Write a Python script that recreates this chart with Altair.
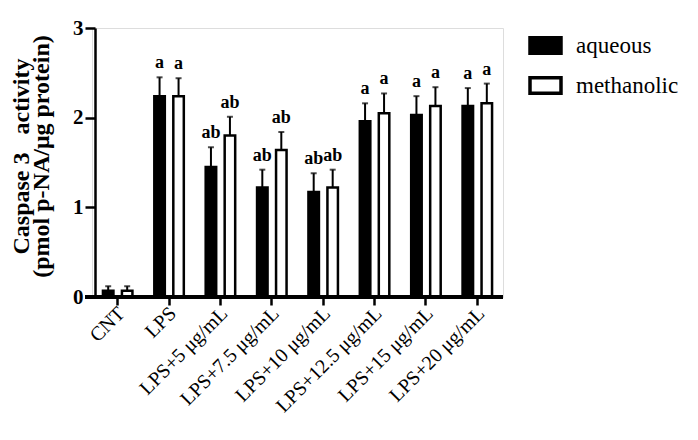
import altair as alt
import pandas as pd

categories = ["CNT", "LPS", "LPS+5 μg/mL", "LPS+7.5 μg/mL", "LPS+10 μg/mL",
              "LPS+12.5 μg/mL", "LPS+15 μg/mL", "LPS+20 μg/mL"]
series = ["aqueous", "methanolic"]
aqueous_mean = [0.07, 2.24, 1.45, 1.22, 1.17, 1.96, 2.03, 2.13]
aqueous_sd = [0.05, 0.21, 0.22, 0.20, 0.21, 0.20, 0.21, 0.20]
methanolic_mean = [0.07, 2.24, 1.80, 1.64, 1.22, 2.05, 2.13, 2.16]
methanolic_sd = [0.05, 0.20, 0.21, 0.20, 0.20, 0.22, 0.21, 0.22]
aqueous_letters = ["", "a", "ab", "ab", "ab", "a", "a", "a"]
methanolic_letters = ["", "a", "ab", "ab", "ab", "a", "a", "a"]

rows = []
for i, c in enumerate(categories):
    rows.append({"cat": c, "series": "aqueous", "mean": aqueous_mean[i],
                 "upper": aqueous_mean[i] + aqueous_sd[i], "letter": aqueous_letters[i]})
    rows.append({"cat": c, "series": "methanolic", "mean": methanolic_mean[i],
                 "upper": methanolic_mean[i] + methanolic_sd[i], "letter": methanolic_letters[i]})
df = pd.DataFrame(rows)

FONT = "Liberation Serif"
W, H = 411, 269

x_enc = alt.X("cat:N", sort=categories,
              scale=alt.Scale(paddingInner=0, paddingOuter=0),
              axis=alt.Axis(title=None, labelAngle=-45, labelAlign="right",
                            labelBaseline="middle", labelFont=FONT, labelFontSize=20,
                            labelColor="black", domain=False, tickSize=8,
                            tickWidth=2.5, tickColor="black", labelPadding=5,
                            labelOffset=4))
xo_enc = alt.XOffset("series:N", sort=series,
                     scale=alt.Scale(paddingInner=0.447, paddingOuter=0.576))
y_scale = alt.Scale(domain=[0, 3], nice=False, zero=True)

base = alt.Chart(df).encode(x=x_enc, xOffset=xo_enc)

bars = base.mark_bar(stroke="black", strokeWidth=2.5).encode(
    y=alt.Y("mean:Q", scale=y_scale,
            axis=alt.Axis(title=["Caspase 3\u00a0\u00a0\u00a0activity", "(pmol p-NA/μg protein)"],
                          values=[0, 1, 2, 3], format="d", grid=False,
                          domainColor="black", domainWidth=2.5, tickColor="black",
                          tickWidth=2.5, tickSize=10, labelFont=FONT, labelFontSize=21,
                          labelFontWeight="bold", labelColor="black", labelPadding=2,
                          titleFont=FONT, titleFontSize=24, titleFontWeight="bold",
                          titleColor="black", titlePadding=19, titleLineHeight=20,
                          titleY=128, offset=-3)),
    fill=alt.Fill("series:N", sort=series,
                  scale=alt.Scale(domain=series, range=["black", "white"]),
                  legend=alt.Legend(title=None, orient="none", legendX=436, legendY=0,
                                    symbolType="M-1,-0.5H1V0.5H-1Z", symbolSize=961,
                                    symbolStrokeColor="black", symbolStrokeWidth=3.5,
                                    labelFont=FONT, labelFontSize=23, labelColor="black",
                                    labelOffset=13, rowPadding=7)),
)

err = base.mark_rule(color="black", strokeWidth=2).encode(
    y=alt.Y("mean:Q", scale=y_scale), y2="upper:Q")
caps = base.mark_tick(color="black", thickness=2, size=6, orient="horizontal").encode(
    y=alt.Y("upper:Q", scale=y_scale))
letters = base.mark_text(font=FONT, fontSize=18, fontWeight="bold", color="black",
                         baseline="alphabetic", dy=-9).encode(
    y=alt.Y("upper:Q", scale=y_scale), text="letter:N")

xline = alt.Chart(df).mark_rule(color="black", strokeWidth=2.5).encode(
    x=alt.value(-7), x2=alt.value(W), y=alt.value(H))

chart = alt.layer(bars, err, caps, letters, xline).properties(
    width=W, height=H,
    autosize=alt.AutoSizeParams(type="none"),
    padding={"left": 92, "top": 28, "right": 698 - 92 - W, "bottom": 440 - 28 - H},
).configure_view(stroke=None).configure(background="white")

chart.save("out.html", embed_options={"renderer": "svg", "actions": False})
